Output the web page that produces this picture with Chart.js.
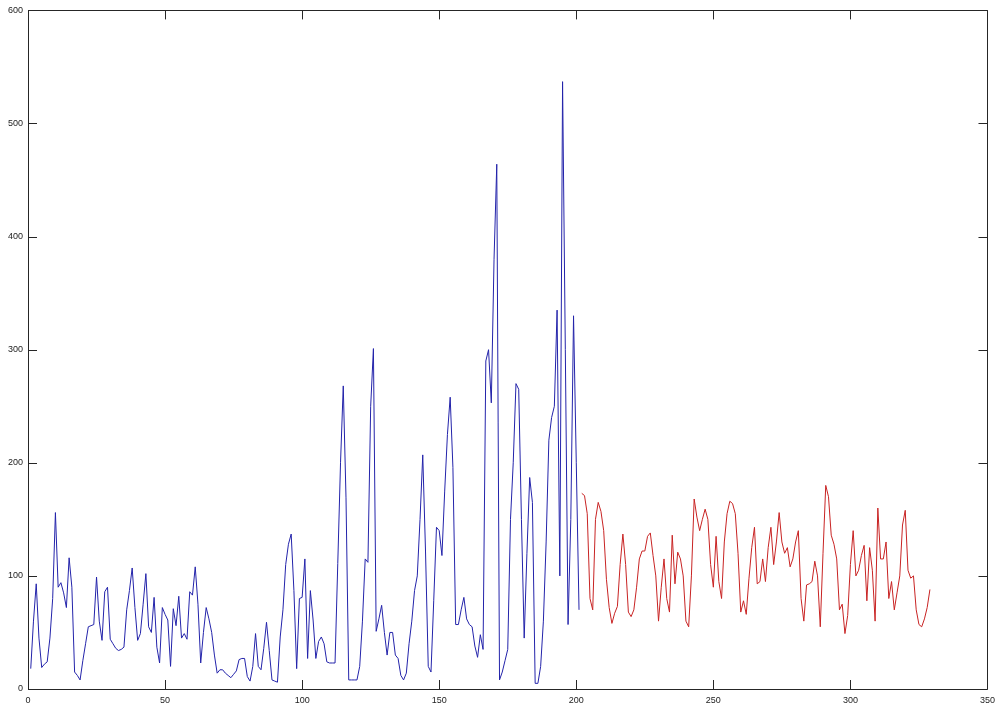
<!DOCTYPE html>
<html>
<head>
<meta charset="utf-8">
<script src="https://cdn.jsdelivr.net/npm/chart.js@4.4.0/dist/chart.umd.min.js"></script>
<style>
html,body{margin:0;padding:0;background:#fff;}
#wrap{width:1001px;height:711px;}
</style>
</head>
<body>
<div id="wrap"><canvas id="c" width="1001" height="711"></canvas></div>
<script>
const blueStart = 1;
const blueValues = [18,60,93,45,19,22,24,45,80,156,90,94,85,72,116,90,15,12,8,25,40,55,56,57,99,60,43,86,90,44,40,36,34,35,37,70,87,107,72,43,49,75,102,55,50,81,37,23,72,66,61,20,71,56,82,45,49,44,86,83,108,75,23,50,72,62,50,30,14,17,17,14,12,10,13,16,26,27,27,11,7,20,49,20,17,36,59,34,8,7,6,46,70,110,128,137,87,18,80,81,115,27,87,61,27,42,46,40,24,23,23,23,111,200,268,169,8,8,8,8,20,60,115,112,250,301,51,62,74,50,30,50,50,30,27,12,8,14,40,60,87,100,150,207,122,20,15,78,143,140,118,175,225,258,196,57,57,70,81,62,57,55,38,28,48,35,290,300,253,380,464,8,15,25,35,150,200,270,265,150,45,120,187,165,5,5,20,60,130,220,240,250,335,100,537,300,57,150,330,200,70];
const redStart = 202;
const redValues = [173,171,155,80,70,150,165,157,140,97,72,58,67,73,110,137,110,68,64,70,90,115,122,122,135,138,118,100,60,90,115,80,68,136,93,121,115,100,60,55,100,168,152,140,150,159,150,110,90,135,95,80,130,155,166,164,155,120,68,78,66,98,125,143,93,95,115,95,125,143,110,130,156,130,120,125,108,115,130,140,80,60,92,93,95,113,100,55,120,180,170,136,128,115,70,75,49,65,110,140,100,105,118,127,78,125,105,60,160,115,115,130,80,95,70,85,100,145,158,105,98,100,70,57,55,62,72,88];
const xTicks = [0,50,100,150,200,250,300,350];
const yTicks = [0,100,200,300,400,500,600];

function toPoints(start, vals){ return vals.map((v,i)=>({x:start+i, y:v})); }

const frameTicks = {
  id:'frameTicks',
  afterDraw(chart){
    const {ctx, chartArea:a, scales:{x, y}} = chart;
    const L = 9;
    ctx.save();
    ctx.strokeStyle = '#262626';
    ctx.lineWidth = 1;
    ctx.beginPath();
    ctx.rect(Math.round(a.left)+0.5, Math.round(a.top)+0.5, Math.round(a.right-a.left), Math.round(a.bottom-a.top));
    ctx.stroke();
    ctx.beginPath();
    xTicks.forEach(t=>{
      const px = Math.round(x.getPixelForValue(t))+0.5;
      ctx.moveTo(px, a.bottom); ctx.lineTo(px, a.bottom-L);
      ctx.moveTo(px, a.top); ctx.lineTo(px, a.top+L);
    });
    yTicks.forEach(t=>{
      const py = Math.round(y.getPixelForValue(t))+0.5;
      ctx.moveTo(a.left, py); ctx.lineTo(a.left+L, py);
      ctx.moveTo(a.right, py); ctx.lineTo(a.right-L, py);
    });
    ctx.stroke();
    ctx.restore();
  }
};

new Chart(document.getElementById('c'), {
  type:'line',
  data:{
    datasets:[
      {data:toPoints(blueStart, blueValues), borderColor:'rgb(35,35,170)', borderWidth:1, pointRadius:0, tension:0, fill:false},
      {data:toPoints(redStart, redValues), borderColor:'rgb(200,35,35)', borderWidth:1, pointRadius:0, tension:0, fill:false}
    ]
  },
  options:{
    responsive:false,
    animation:false,
    events:[],
    layout:{autoPadding:false, padding:{left:0, right:10, top:8, bottom:0}},
    plugins:{legend:{display:false}, tooltip:{enabled:false}},
    scales:{
      x:{type:'linear', min:0, max:350,
        afterBuildTicks(s){ s.ticks = xTicks.map(v=>({value:v})); },
        afterFit(s){ s.height = 22; },
        grid:{display:false, drawTicks:false}, border:{display:false},
        ticks:{padding:6, color:'#222', font:{family:'Liberation Sans', size:9}, maxRotation:0, autoSkip:false}
      },
      y:{type:'linear', min:0, max:600,
        afterBuildTicks(s){ s.ticks = yTicks.map(v=>({value:v})); },
        afterFit(s){ s.width = 28; },
        grid:{display:false, drawTicks:false}, border:{display:false},
        ticks:{padding:5, color:'#222', font:{family:'Liberation Sans', size:9}, autoSkip:false}
      }
    }
  },
  plugins:[frameTicks]
});
</script>
</body>
</html>
